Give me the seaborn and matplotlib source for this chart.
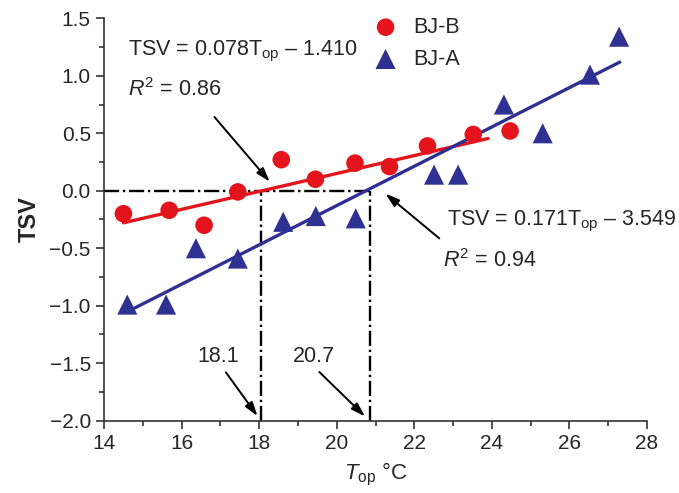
import numpy as np
import pandas as pd
import seaborn as sns
import matplotlib.pyplot as plt

# BJ-B (red circles) and BJ-A (blue triangles)
top_b = [14.50, 15.68, 16.58, 17.45, 18.57, 19.45, 20.47, 21.36, 22.34, 23.52, 24.47]
tsv_b = [-0.20, -0.17, -0.30, -0.01, 0.27, 0.10, 0.24, 0.21, 0.39, 0.49, 0.52]
top_a = [14.60, 15.60, 16.37, 17.45, 18.62, 19.46, 20.49, 22.51, 23.13, 24.31, 25.31, 26.53, 27.28]
tsv_a = [-0.99, -0.99, -0.50, -0.59, -0.27, -0.22, -0.24, 0.14, 0.14, 0.75, 0.50, 1.01, 1.34]

# regression lines TSV = slope * Top + intercept
fit_b = (0.078, -1.410)
fit_a = (0.171, -3.549)
range_b = [14.5, 23.9]
range_a = [14.7, 27.3]

# neutral temperatures (TSV = 0)
neutral = [18.05, 20.85]
neutral_labels = ['18.1', '20.7']

sns.set_theme(style='ticks')
plt.rcParams['font.family'] = ['Liberation Sans', 'DejaVu Sans']
plt.rcParams['mathtext.fontset'] = 'custom'
plt.rcParams['mathtext.rm'] = 'Liberation Sans'
plt.rcParams['mathtext.it'] = 'Liberation Sans:italic'
plt.rcParams['mathtext.bf'] = 'Liberation Sans:bold'

red = '#e3141b'
blue = '#2e3192'
fs = 15.5

fig = plt.figure(figsize=(6.79, 4.93), dpi=100)
ax = fig.add_axes([0.1532, 0.1467, 0.7997, 0.8162])

df_b = pd.DataFrame({'Top': top_b, 'TSV': tsv_b})
df_a = pd.DataFrame({'Top': top_a, 'TSV': tsv_a})

# dash-dot guides
for xv in neutral:
    ax.plot([xv, xv], [-2.0, 0.0], color='black', lw=1.7, ls='-.', zorder=1)
ax.plot([14, max(neutral)], [0, 0], color='black', lw=1.7, ls='-.', zorder=1)

# fitted lines
xb = np.array(range_b)
xa = np.array(range_a)
sns.lineplot(x=xb, y=fit_b[0] * xb + fit_b[1], color=red, lw=2.4, ax=ax, zorder=2)
sns.lineplot(x=xa, y=fit_a[0] * xa + fit_a[1], color=blue, lw=2.4, ax=ax, zorder=2)

sns.scatterplot(data=df_b, x='Top', y='TSV', color=red, marker='o', s=160,
                edgecolor='none', ax=ax, zorder=3, label='BJ-B')
sns.scatterplot(data=df_a, x='Top', y='TSV', color=blue, marker='^', s=210,
                edgecolor='none', ax=ax, zorder=3, label='BJ-A')

ax.set_xlim(14, 28)
ax.set_ylim(-2.0, 1.5)
ax.set_xticks(np.arange(14, 29, 2))
ax.set_yticks(np.arange(-2.0, 1.51, 0.5))
ax.set_yticklabels([f'{v:.1f}'.replace('-', '\u2212') for v in np.arange(-2.0, 1.51, 0.5)])
ax.set_xticks(np.arange(15, 28, 2), minor=True)
ax.set_yticks(np.arange(-1.75, 1.5, 0.5), minor=True)
ax.tick_params(which='major', direction='out', length=6, width=1.2, labelsize=15, color='#333333')
ax.tick_params(which='minor', direction='out', length=3.5, width=1.2, color='#333333')
for s in ['top', 'right']:
    ax.spines[s].set_visible(False)
for s in ['left', 'bottom']:
    ax.spines[s].set_linewidth(1.2)
    ax.spines[s].set_color('#333333')

ax.set_xlabel(r'$T_{\mathrm{op}}$ °C', fontsize=16, labelpad=6)
ax.set_ylabel('TSV', fontsize=17, fontweight='bold', labelpad=6)

# equations
ax.text(14.62, 1.21, r'TSV = 0.078T$_{\mathrm{op}}$ – 1.410', fontsize=fs, va='center')
ax.text(14.62, 0.88, r'$R^2$ = 0.86', fontsize=fs, va='center')
ax.text(22.85, -0.27, r'TSV = 0.171T$_{\mathrm{op}}$ – 3.549', fontsize=fs, va='center')
ax.text(22.75, -0.61, r'$R^2$ = 0.94', fontsize=fs, va='center')

arrow = dict(arrowstyle='-|>,head_length=0.7,head_width=0.22', color='black', lw=1.4)
ax.annotate('', xy=(18.32, 0.06), xytext=(16.8, 0.66), arrowprops=arrow)
ax.annotate('', xy=(21.2, -0.01), xytext=(22.7, -0.43), arrowprops=arrow)

# neutral temperature labels
ax.text(16.95, -1.44, neutral_labels[0], fontsize=fs, va='center', ha='center')
ax.text(19.4, -1.44, neutral_labels[1], fontsize=fs, va='center', ha='center')
ax.annotate('', xy=(neutral[0] - 0.05, -1.98), xytext=(17.1, -1.56), arrowprops=arrow)
ax.annotate('', xy=(neutral[1] - 0.07, -1.98), xytext=(19.5, -1.56), arrowprops=arrow)

ax.legend(loc='upper left', bbox_to_anchor=(0.463, 1.025), frameon=False, fontsize=fs,
          handletextpad=0.3, labelspacing=0.5, markerscale=1.0, borderaxespad=0)

fig.savefig('out.png', dpi=100)
